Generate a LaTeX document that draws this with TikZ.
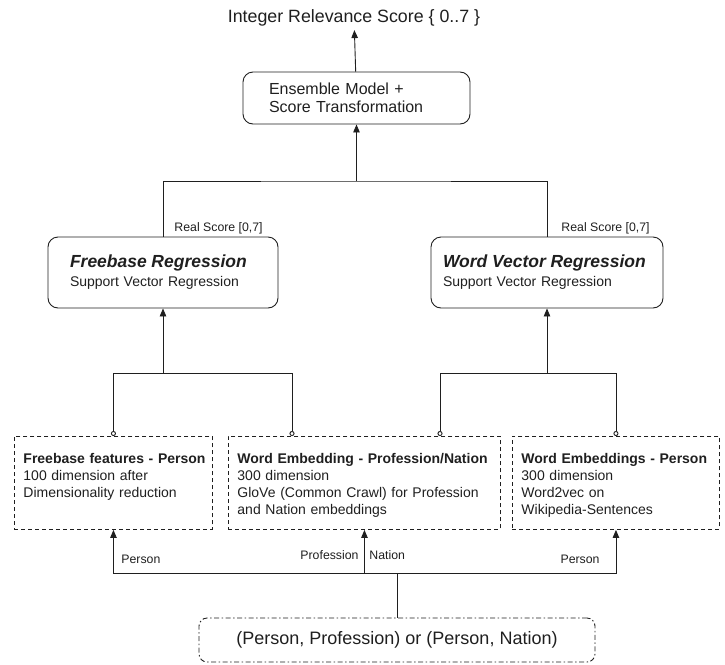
\documentclass[tikz,border=0pt]{standalone}
\usepackage{fontspec}
\setmainfont{Liberation Sans}
\usepackage{tikz}
\usetikzlibrary{arrows.meta, positioning}

\newcommand{\fsz}[2]{\fontsize{#1}{#2}\selectfont}

\begin{document}
\begin{tikzpicture}[
    x=1pt, y=-1pt,
    color=black!88, line width=0.9pt,
    model/.style={rectangle, rounded corners=10pt, draw, align=left, inner ysep=0pt},
    feat/.style={rectangle, draw, dash pattern=on 4pt off 3pt, anchor=north west, align=left, inner xsep=9pt, inner ysep=0pt, text height=27pt, text depth=66pt, font=\fsz{14}{17}},
    input/.style={rectangle, rounded corners=8pt, draw, dash pattern=on 5pt off 2.5pt on 1.5pt off 2.5pt, minimum width=396pt, minimum height=44pt, font=\fsz{18}{20}},
    lbl/.style={font=\fsz{12.3}{14}, inner sep=0pt},
    arrow/.style={-{Triangle[length=8pt, width=6.5pt]}},
    tap/.style={-{Circle[open, length=5pt]}},
]
\useasboundingbox (0,0) rectangle (725,664);

% Output and ensemble
\node[font=\fsz{17.8}{20}] (score) at (354,18) {Integer Relevance Score \{ 0..7 \}};
\node[model, font=\fsz{16}{18}, text width=175pt, inner xsep=26pt, minimum height=52pt] (ensemble) at (356.5,98) {Ensemble Model +\\Score Transformation};

% Regression models
\node[model, font=\fsz{14}{19}, text width=186pt, inner xsep=22pt, minimum height=71pt] (fbreg) at (163,272.5) {{\fsz{17.5}{19}\bfseries\itshape Freebase Regression}\\Support Vector Regression};
\node[model, font=\fsz{14}{19}, text width=208pt, inner xsep=12pt, minimum height=71pt] (wvreg) at (547,272.5) {{\fsz{17.5}{19}\bfseries\itshape Word Vector Regression}\\Support Vector Regression};

% Feature boxes
\node[feat, text width=180pt] (fbfeat) at (14,436) {\mbox{\bfseries Freebase features - Person}\\100 dimension after\\Dimensionality reduction};
\node[feat, text width=254pt] (wordemb) at (228,436) {\mbox{\bfseries Word Embedding - Profession/Nation}\\300 dimension\\GloVe (Common Crawl) for Profession\\and Nation embeddings};
\node[feat, text width=189pt] (wordpers) at (512,436) {\mbox{\bfseries Word Embeddings - Person}\\300 dimension\\Word2vec on\\Wikipedia-Sentences};

% Input
\node[input] (pair) at (397,640) {(Person, Profession) or (Person, Nation)};

% Junctions
\coordinate (merge) at (356.5,181);
\coordinate (fbjoin) at (163,373);
\coordinate (wvjoin) at (547,373);
\coordinate (split) at (397,573);

% Arrows
\draw[arrow] (ensemble) -- (score);
\draw[arrow] (merge) -- (ensemble);
\draw (fbreg) |- (merge) -| (wvreg);
\draw[arrow] (fbjoin) -- (fbreg);
\draw[arrow] (wvjoin) -- (wvreg);
\draw[tap] (fbjoin) -| (fbfeat);
\draw[tap] (fbjoin) -| ([xshift=64pt]wordemb.north west);
\draw[tap] (wvjoin) -| ([xshift=212pt]wordemb.north west);
\draw[tap] (wvjoin) -| (wordpers);
\draw (pair) -- (split);
\draw[arrow] (split) -| (fbfeat);
\draw[arrow] (split) -| (wordemb);
\draw[arrow] (split) -| (wordpers);

% Labels
\node[lbl, anchor=west] (realL) at ([xshift=11pt, yshift=8pt]fbreg.north) {Real Score [0,7]};
\node[lbl, anchor=west] (realR) at ([xshift=14pt, yshift=8pt]wvreg.north) {Real Score [0,7]};
\node[lbl, anchor=west] (personL) at (121,559) {Person};
\node[lbl, anchor=east] (profL) at (359,555) {Profession};
\node[lbl, anchor=west] (natL) at (369,555) {Nation};
\node[lbl, anchor=east] (personR) at (600,559) {Person};

\end{tikzpicture}
\end{document}
